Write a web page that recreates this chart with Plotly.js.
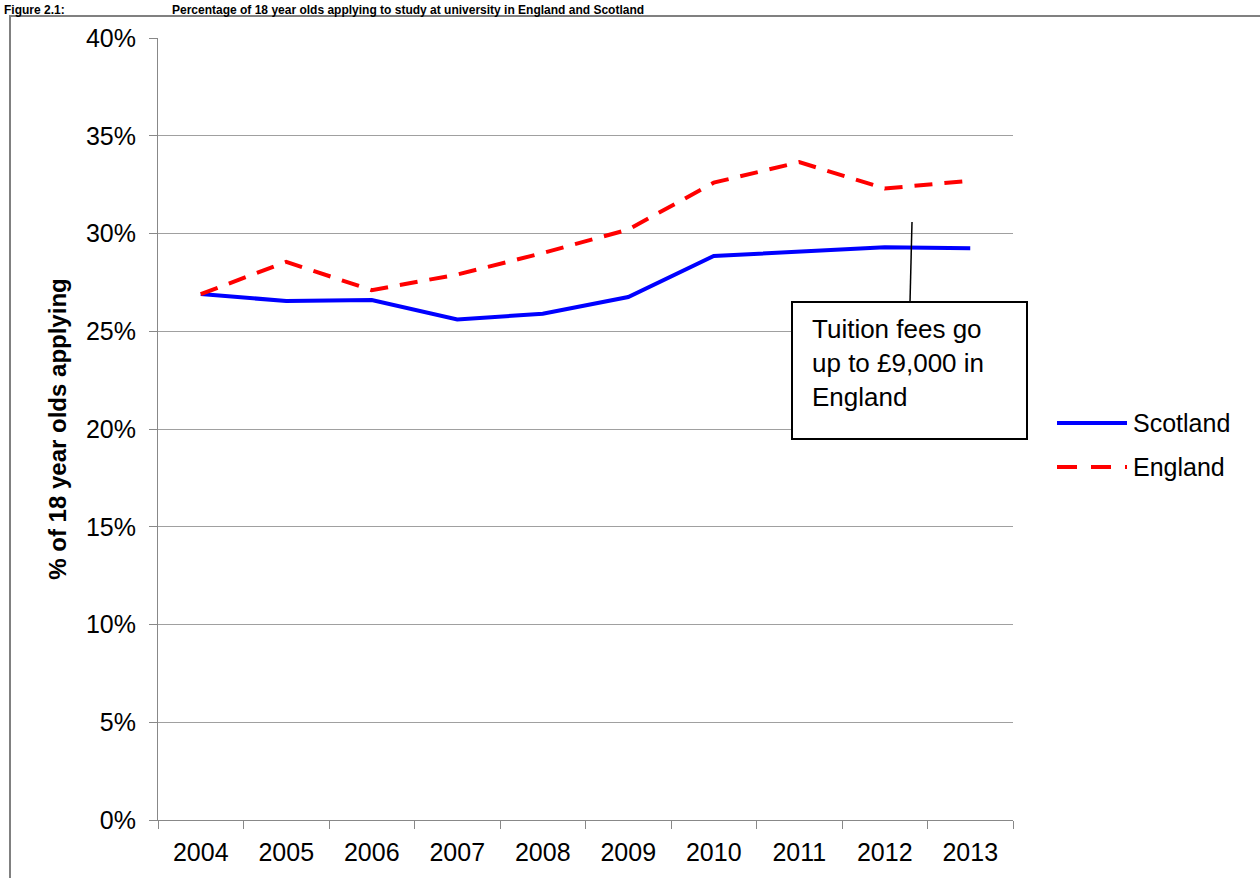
<!DOCTYPE html>
<html><head><meta charset="utf-8">
<script src="https://cdn.plot.ly/plotly-3.0.1.min.js"></script>
<style>html,body{margin:0;padding:0;background:#fff}</style>
</head><body>
<div id="chart" style="width:1260px;height:878px"></div>
<script>
const years = ['2004','2005','2006','2007','2008','2009','2010','2011','2012','2013'];
const scotland = [0.269,0.2655,0.266,0.256,0.259,0.2675,0.2885,0.2905,0.293,0.2925];
const england  = [0.269,0.2855,0.271,0.279,0.290,0.302,0.326,0.3365,0.323,0.327];
const yTicks = [0,0.05,0.10,0.15,0.20,0.25,0.30,0.35,0.40];
const yTickText = ['0%','5%','10%','15%','20%','25%','30%','35%','40%'];
const seriesNames = ['Scotland','England'];

const F = 'Liberation Sans, Arial, sans-serif';
const colors = ['#0000FF','#FF0000'];
const dashes = ['solid','18px,12px'];
const traces = [
  {x: years, y: scotland, name: seriesNames[0], type: 'scatter', mode: 'lines',
   line: {color: colors[0], width: 4}},
  {x: years, y: england, name: seriesNames[1], type: 'scatter', mode: 'lines',
   line: {color: colors[1], width: 4, dash: dashes[1]}}
];

// pixel -> paper helpers (plot area: x 158..1013, y 38..820)
const px = p => (p - 158) / 855;
const py = p => (820 - p) / 782;

const legendShapes = [];
const legendAnns = [];
[423, 467].forEach((yy, i) => {
  legendShapes.push({type: 'line', xref: 'paper', yref: 'paper',
    x0: px(1057), x1: px(1127), y0: py(yy), y1: py(yy),
    line: {color: colors[i], width: 4, dash: i ? '20px,14px' : 'solid'}});
  legendAnns.push({xref: 'paper', yref: 'paper', x: px(1131), y: py(yy),
    xanchor: 'left', yanchor: 'middle', showarrow: false, text: seriesNames[i],
    font: {size: 25, family: F, color: '#000'}});
});

const layout = {
  width: 1260, height: 878,
  margin: {l: 158, r: 247, t: 38, b: 58},
  paper_bgcolor: '#fff', plot_bgcolor: '#fff',
  font: {family: F, size: 25, color: '#000'},
  showlegend: false,
  xaxis: {type: 'category', range: [-0.5, 9.5], tickson: 'boundaries',
          ticks: 'outside', ticklen: 8, tickcolor: '#888', showgrid: false,
          showline: true, linecolor: '#888', linewidth: 1, ticklabelstandoff: 10,
          tickfont: {size: 25, family: F}, zeroline: false, fixedrange: true},
  yaxis: {range: [0, 0.40], tickvals: yTicks, ticktext: yTickText,
          ticks: 'outside', ticklen: 8, tickcolor: '#888',
          showgrid: true, gridcolor: '#a0a0a0', gridwidth: 1,
          showline: true, linecolor: '#888', linewidth: 1, zeroline: false,
          ticklabelstandoff: 8,
          tickfont: {size: 25, family: F},
          title: {text: '<b>% of 18 year olds applying</b>', font: {size: 24, family: F}, standoff: 12}},
  shapes: [
    {type: 'rect', xref: 'paper', yref: 'paper', x0: px(10), x1: px(1300), y0: py(900), y1: py(16),
     line: {color: '#808080', width: 2}, fillcolor: 'rgba(0,0,0,0)', layer: 'below'},
    {type: 'line', xref: 'paper', yref: 'paper', x0: px(910), y0: py(302), x1: px(912), y1: py(222),
     line: {color: '#000', width: 1.5}},
    {type: 'rect', xref: 'paper', yref: 'paper', x0: px(792), x1: px(1027), y0: py(439), y1: py(302),
     line: {color: '#000', width: 2}, fillcolor: '#fff'}
  ].concat(legendShapes),
  annotations: [
    {xref: 'paper', yref: 'paper', x: px(810), y: py(312), xanchor: 'left', yanchor: 'top',
     align: 'left', showarrow: false, text: 'Tuition fees go<br>up to £9,000 in<br>England',
     font: {size: 26, family: F, color: '#000'}},
    {xref: 'paper', yref: 'paper', x: px(2), y: py(1), xanchor: 'left', yanchor: 'top',
     showarrow: false, text: '<b>Figure 2.1:</b>', font: {size: 12, family: F}},
    {xref: 'paper', yref: 'paper', x: px(170), y: py(1), xanchor: 'left', yanchor: 'top',
     showarrow: false, text: '<b>Percentage of 18 year olds applying to study at university in England and Scotland</b>',
     font: {size: 12, family: F}}
  ].concat(legendAnns)
};
Plotly.newPlot('chart', traces, layout, {displayModeBar: false, staticPlot: true});
</script>
</body></html>
